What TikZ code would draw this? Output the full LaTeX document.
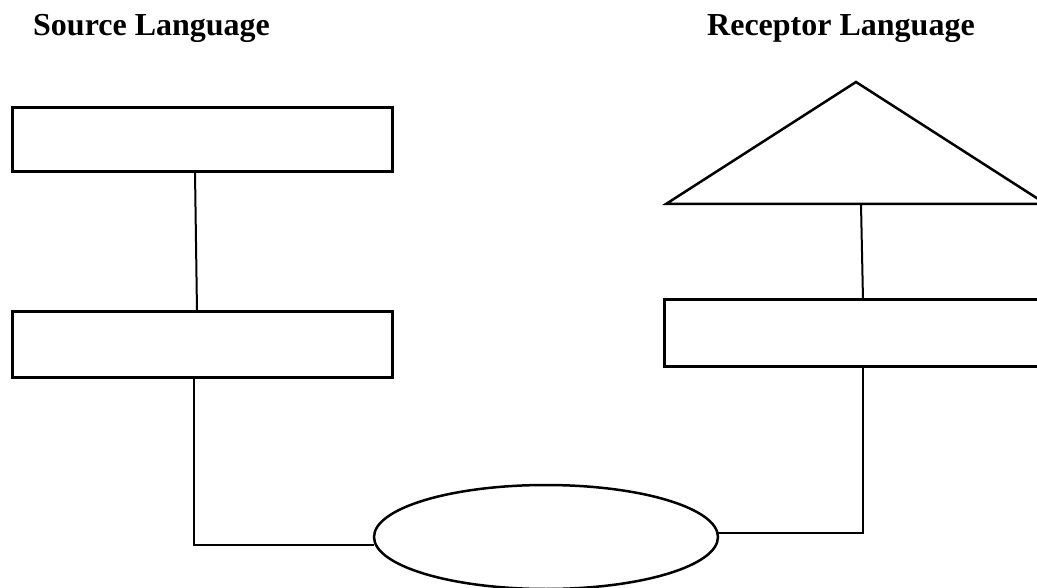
\documentclass[tikz,border=0pt]{standalone}
\usepackage{fontspec}
\setmainfont{Liberation Serif}
\usetikzlibrary{shapes.geometric}
\begin{document}
\begin{tikzpicture}[x=1pt,y=-1pt,
  title/.style={anchor=base west,inner sep=0pt,font=\fontsize{32}{38}\selectfont\bfseries},
  box/.style={draw,line width=3pt},
  conn/.style={line width=2pt}]
\useasboundingbox (0,0) rectangle (1037,588);
\begin{scope}
\clip (0,0) rectangle (1037,588);
\node[title] (src) at (33,36) {Source Language};
\node[title] (rec) at (707,36) {Receptor Language};
% left boxes
\draw[box] (12,108) rectangle (392,172);
\coordinate (b1s) at (195,172);
\draw[box] (12,312) rectangle (392,377);
\coordinate (b2n) at (197,312);
\coordinate (b2s) at (194,377);
% triangle
\draw[line width=2.5pt,line join=miter] (666,204) -- (856,82) -- (1046,204) -- cycle;
\coordinate (trs) at (861,204);
% right box
\draw[box] (664,300) rectangle (1060,366);
\coordinate (b3n) at (863,300);
\coordinate (b3s) at (863,366);
% ellipse
\draw[line width=2.5pt] (546,537) ellipse [x radius=172, y radius=52];
\coordinate (ell) at (374,545);
\coordinate (elr) at (718,533);
\coordinate (lc) at (194,545);
\coordinate (rc) at (863,533);
% connectors
\draw[conn] (b1s) -- (b2n);
\draw[conn] (b2s) -- (lc) -- (ell);
\draw[conn] (trs) -- (b3n);
\draw[conn] (b3s) -- (rc) -- (elr);
\end{scope}
\end{tikzpicture}
\end{document}
